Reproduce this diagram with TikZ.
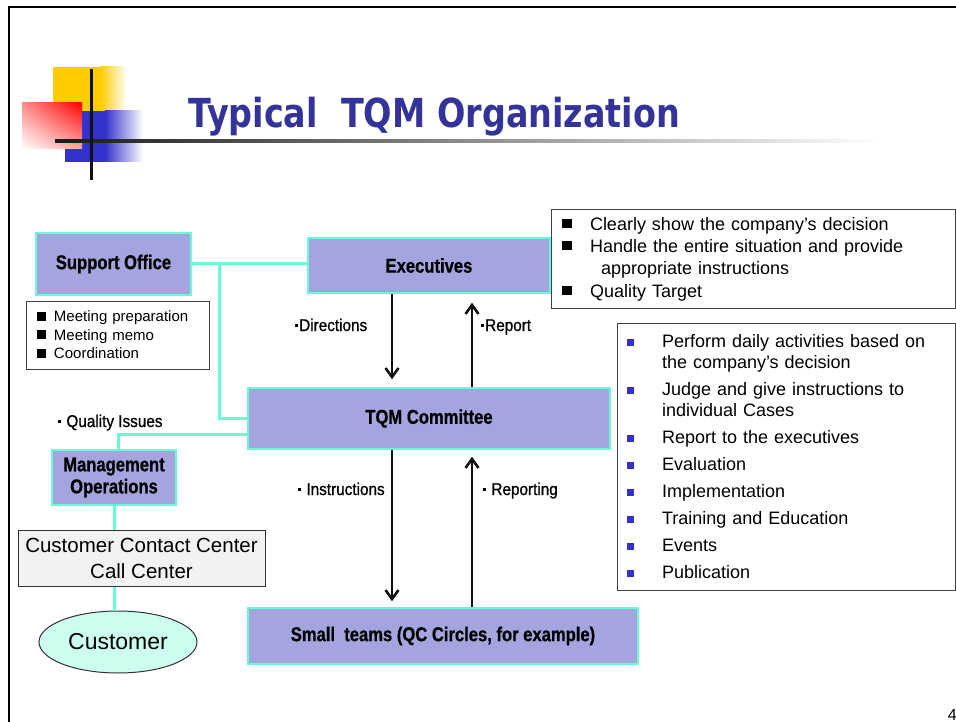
\documentclass[tikz,border=0pt]{standalone}
\usepackage{fontspec}
\setmainfont{Liberation Sans}
\newfontfamily\gothic[FakeStretch=0.83, FakeBold=0.7]{Liberation Sans Bold}
\newfontfamily\tagfont[FakeStretch=0.9, FakeBold=0.9]{Liberation Sans}
\newfontfamily\headfont[FakeStretch=0.835]{DejaVu Sans}
\usetikzlibrary{
  arrows.meta,
  positioning,
  shadings,
  shapes.geometric
}
\definecolor{ink}{HTML}{111111}
\definecolor{titleblue}{HTML}{333399}
\definecolor{unitfill}{HTML}{A4A4DE}
\definecolor{edge}{HTML}{66FFD5}
\definecolor{bulletblue}{HTML}{3333CC}
\definecolor{deskfill}{HTML}{F2F2F2}
\definecolor{custfill}{HTML}{CCFFEE}
\definecolor{logoyellow}{HTML}{FFCC00}
\definecolor{logored}{HTML}{FF0000}
\definecolor{logoblue}{HTML}{3333CC}
\newcommand{\unittext}{\gothic\fontsize{20}{22}\selectfont}
\newcommand{\tagtext}{\tagfont\fontsize{17}{19}\selectfont}
\newcommand{\tagdot}{\rule[4.5pt]{3pt}{3pt}\kern1pt}
\newcommand{\blk}{\makebox[28pt][l]{\rule[2pt]{10pt}{9.5pt}}}
\newcommand{\blksmall}{\makebox[17pt][l]{\rule[1pt]{9pt}{9pt}}}
\newcommand{\bluesq}{\makebox[35pt][l]{\textcolor{bulletblue}{\rule[1.5pt]{7pt}{7pt}}}}
\tikzset{
  unit/.style={
    draw=edge,
    fill=unitfill,
    line width=1.5pt,
    inner sep=0pt,
    align=center,
    font=\unittext
  },
  link/.style={
    draw=edge,
    line width=3pt
  },
  flow/.style={
    -{Straight Barb[length=9pt,width=13pt]},
    line width=2.6pt,
    draw=ink
  },
  tag/.style={
    inner sep=0pt,
    font=\tagtext
  },
  notebox/.style={
    draw=black!75,
    fill=white,
    line width=1pt,
    inner ysep=0pt,
    align=left
  }
}

\begin{document}
\begin{tikzpicture}[x=1pt, y=-1pt]
  \useasboundingbox[fill=white] (0,0) rectangle (956,722);

  \fill[logoyellow] (53,67) rectangle (101,112);
  \shade[left color=logoyellow, right color=white] (100,67) rectangle (127,112);
  \fill[logoblue] (65,111) rectangle (106,162);
  \shade[left color=logoblue, right color=white] (105,111) rectangle (143,162);
  \shade[upper left=logored!45!white, upper right=logored,
    lower left=white, lower right=logored!35!white] (22,103) rectangle (82,149);
  \shade[left color=black!90, middle color=black!45, right color=white]
    (55,139.5) rectangle (880,142.5);
  \draw[line width=3pt, ink] (91,69) -- (91,180);
  \draw[line width=2.5pt, black] (9,724) -- (9,7) -- (958,7);

  \node[anchor=base west, inner sep=0pt, text=titleblue,
    font=\headfont\bfseries\fontsize{40}{44}\selectfont] (title)
    at (188,128) {Typical\ \ TQM Organization};

  \node[unit, minimum width=155pt, minimum height=62pt] (support)
    at (113.5,264) {Support Office};
  \node[unit, minimum width=242pt, minimum height=55pt] (exec)
    at (429,265.5) {Executives};
  \node[unit, minimum width=362pt, minimum height=61pt] (committee)
    at (429,418.5) {TQM Committee};
  \node[unit, minimum width=390pt, minimum height=56pt] (teams)
    at (443,636) {Small\ \ teams (QC Circles, for example)};
  \node[unit, minimum width=124pt, minimum height=55pt] (mgmt)
    at (114,477.5) {\raisebox{-2pt}{Management}\\\raisebox{-2pt}{Operations}};
  \node[draw=black!80, fill=deskfill, line width=1pt, inner sep=0pt,
    minimum width=247pt, minimum height=56pt, align=center,
    font=\fontsize{20.5}{26}\selectfont] (desk)
    at (141.5,558) {\raisebox{-3pt}{Customer Contact Center}\\\raisebox{-3pt}{Call Center}};
  \node[ellipse, draw=black!80, fill=custfill, line width=1pt, inner sep=0pt,
    minimum width=158pt, minimum height=62pt,
    font=\fontsize{23}{26}\selectfont] (cust)
    at (118,642) {Customer};

  \node[notebox, inner xsep=11pt, text width=161pt, minimum height=68pt,
    font=\fontsize{15}{18.5}\selectfont] (notes) at (117.5,335) {
    \blksmall Meeting preparation\\
    \blksmall Meeting memo\\
    \blksmall Coordination
  };
  \node[notebox, inner xsep=11pt, text width=382pt, minimum height=99pt,
    font=\fontsize{18}{22.4}\selectfont] (duties) at (753,259) {
    \blk Clearly show the company's decision\\
    \blk Handle the entire situation and provide\\
    \hspace*{39pt}appropriate instructions\\
    \blk Quality Target
  };
  \node[notebox, inner xsep=10pt, text width=318pt, minimum height=267pt,
    font=\fontsize{18}{21}\selectfont] (tasks) at (786,456.5) {
    \bluesq Perform daily activities based on\\
    \hspace*{35pt}the company's decision\\[6pt]
    \bluesq Judge and give instructions to\\
    \hspace*{35pt}individual Cases\\[6pt]
    \bluesq Report to the executives\\[6pt]
    \bluesq Evaluation\\[6pt]
    \bluesq Implementation\\[6pt]
    \bluesq Training and Education\\[6pt]
    \bluesq Events\\[6pt]
    \bluesq Publication
  };

  \node[tag, anchor=base west] (dirtag) at (295,331) {\tagdot Directions};
  \node[tag, anchor=base west] (reptag) at (481,331) {\tagdot Report};
  \node[tag, anchor=base west] (qualtag) at (58,427) {\tagdot\ Quality Issues};
  \node[tag, anchor=base west] (instag) at (298,495) {\tagdot\ Instructions};
  \node[tag, anchor=base west] (reportingtag) at (483,495) {\tagdot\ Reporting};
  \node[anchor=base east, inner sep=0pt, font=\fontsize{16}{18}\selectfont]
    (pagenum) at (957,720) {4};

  \coordinate (tap) at (219,264);
  \draw[link] (support.east) -- (support.east -| exec.west);
  \draw[link] (tap) |- (committee.west);
  \draw[link] ([yshift=-15.5pt]committee.west) -| ([xshift=4pt]mgmt.north);
  \draw[link] (mgmt.south) -- (mgmt.south |- desk.north);
  \draw[link] (desk.south -| mgmt.south) -- (mgmt.south |- cust.north);

  \draw[flow, shorten >=8pt] ([xshift=-37pt]exec.south) --
    ([xshift=-37pt]exec.south |- committee.north);
  \draw[flow, shorten >=9pt] ([xshift=43pt]committee.north) --
    ([xshift=43pt]committee.north |- exec.south);
  \draw[flow, shorten >=6pt] ([xshift=-37pt]committee.south) --
    ([xshift=-37pt]committee.south |- teams.north);
  \draw[flow, shorten >=7pt] ([xshift=43pt]committee.south |- teams.north) --
    ([xshift=43pt]committee.south);
\end{tikzpicture}
\end{document}
